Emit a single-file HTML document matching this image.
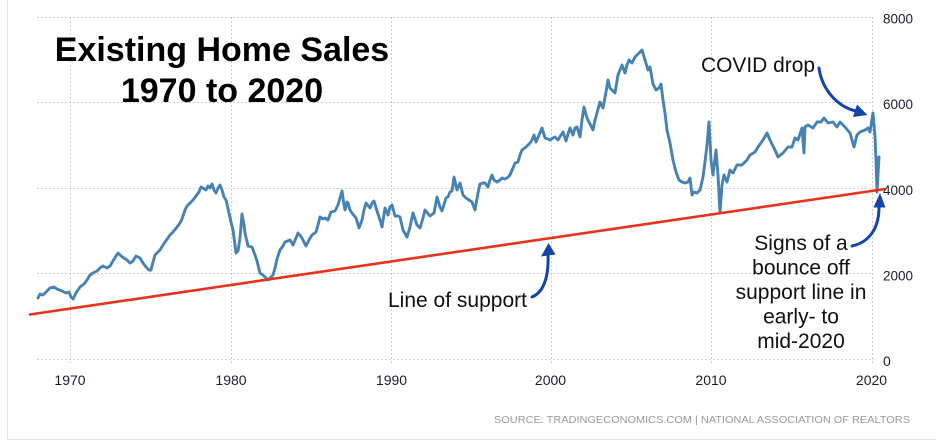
<!DOCTYPE html>
<html>
<head>
<meta charset="utf-8">
<style>
  html,body{margin:0;padding:0;background:#fff;}
  body{width:936px;height:440px;overflow:hidden;}
  svg{display:block;}
  text{font-family:"Liberation Sans",Arial,sans-serif;}
</style>
</head>
<body>
<svg width="936" height="440" viewBox="0 0 936 440" xmlns="http://www.w3.org/2000/svg">
  <rect x="0" y="0" width="936" height="440" fill="#fff"/>
  <!-- frame -->
  <path d="M7.5,-2 L7.5,439.5 L940,439.5" fill="none" stroke="#e4e4e4" stroke-width="1"/>

  <!-- grid -->
  <g stroke="#cfcfcf" stroke-width="1" stroke-dasharray="2,2" fill="none">
    <line x1="37" y1="17.5" x2="874" y2="17.5"/>
    <line x1="37" y1="102.5" x2="874" y2="102.5"/>
    <line x1="37" y1="188.5" x2="874" y2="188.5"/>
    <line x1="37" y1="273.5" x2="874" y2="273.5"/>
    <line x1="37" y1="359.5" x2="874" y2="359.5"/>
    <line x1="70.5" y1="17" x2="70.5" y2="365"/>
    <line x1="231.5" y1="17" x2="231.5" y2="365"/>
    <line x1="391.5" y1="17" x2="391.5" y2="365"/>
    <line x1="551.5" y1="17" x2="551.5" y2="365"/>
    <line x1="711.5" y1="17" x2="711.5" y2="365"/>
    <line x1="872.5" y1="17" x2="872.5" y2="365"/>
  </g>

  <!-- y labels -->
  <g fill="#1c1c30" font-size="14">
    <text x="883" y="23.5" textLength="30" lengthAdjust="spacingAndGlyphs">8000</text>
    <text x="883" y="109" textLength="30" lengthAdjust="spacingAndGlyphs">6000</text>
    <text x="883" y="195" textLength="30" lengthAdjust="spacingAndGlyphs">4000</text>
    <text x="883" y="280.5" textLength="30" lengthAdjust="spacingAndGlyphs">2000</text>
    <text x="883" y="366">0</text>
  </g>
  <!-- x labels -->
  <g fill="#1c1c30" font-size="14" text-anchor="middle">
    <text x="70" y="385">1970</text>
    <text x="231" y="385">1980</text>
    <text x="391.5" y="385">1990</text>
    <text x="550.5" y="385">2000</text>
    <text x="711" y="385">2010</text>
    <text x="871.5" y="385">2020</text>
  </g>

  <!-- source -->
  <text x="494" y="423" font-size="10.5" fill="#9a9a9a" textLength="416" lengthAdjust="spacingAndGlyphs">SOURCE: TRADINGECONOMICS.COM | NATIONAL ASSOCIATION OF REALTORS</text>

  <!-- data line -->
  <polyline fill="none" stroke="#4682b4" stroke-width="2.9" stroke-linejoin="round" stroke-linecap="round"
    points="38,298 40,294 43,295 46,292 50,288 54,287 57,289 62,291 66,293 69,292 71,297 73,299 76,293 80,287 84,284 87,280 90,275 93,273 97,271 100,268 103,266 107,268 110,266 113,261 116,256 118,253 121,256 124,258 127,260 130,263 133,261 136,256 138,257 140,258 143,263 146,267 149,270 151,270 153,262 155,255 158,252 160,250 163,245 165,242 168,238 170,235 173,232 177,227 180,223 182,219 185,210 187,206 190,203 193,200 196,196 199,192 201,187 203,188 206,190 208,186 210,188 212,184 214,190 216,193 218,188 220,185 222,190 224,197 226,200 229,213 231,222 233,230 235,245 236,253 238,251 240,238 242,214 244,225 245,233 248,246 252,247 255,255 257,261 260,273 263,275 265,277 268,280 270,278 273,275 275,268 277,259 280,250 283,246 285,242 290,240 293,245 296,238 298,233 302,238 306,246 309,240 312,235 316,232 318,225 320,217 323,219 325,218 328,220 331,212 335,211 338,205 340,198 342,191 344,205 345,210 347,202 348,203 350,210 352,213 356,218 359,228 362,220 364,210 366,203 370,208 372,203 374,201 377,211 380,220 382,227 385,208 388,215 390,207 392,205 395,216 398,216 400,217 403,230 407,237 410,227 413,213 417,225 420,228 423,218 425,210 430,216 434,213 437,197 440,207 442,211 446,198 448,197 450,192 452,191 454,177 457,190 460,183 463,195 466,198 469,200 472,202 475,210 478,193 480,184 483,183 485,183 488,187 490,180 492,175 494,180 497,182 500,180 502,178 505,179 507,178 510,175 513,168 515,163 518,162 520,155 522,150 526,147 530,143 532,140 534,135 536,142 539,135 542,128 545,138 548,139 550,140 553,138 555,137 558,140 561,135 563,132 566,141 568,134 570,128 573,135 575,128 577,127 580,137 582,120 584,107 587,118 590,124 593,130 595,120 597,113 600,102 603,108 606,92 608,80 610,88 612,90 615,93 618,75 620,70 622,65 625,73 627,65 629,60 632,63 635,57 638,54 642,50 645,60 648,70 650,67 653,84 656,90 659,88 661,84 663,100 665,113 667,130 670,143 673,160 676,172 679,180 682,182 685,183 688,182 690,178 692,195 694,192 697,193 700,190 703,177 705,162 707,145 709,122 711,160 713,175 716,150 718,175 720,213 722,185 724,175 727,182 730,170 733,173 737,165 742,165 747,160 750,155 755,152 758,147 763,140 767,133 770,140 775,150 778,157 783,153 788,147 792,147 795,138 798,140 802,128 804,153 805,127 808,125 813,128 817,122 821,122 824,118 828,123 833,122 837,127 840,122 845,127 850,133 854,147 857,135 860,132 865,130 868,128 870,132 873,113 875,137 876,160 877,192 879,157"/>

  <!-- support line -->
  <line x1="30" y1="314.5" x2="885" y2="189" stroke="#e8321c" stroke-width="2.6" stroke-linecap="round"/>

  <!-- title -->
  <g font-weight="bold" font-size="34" fill="#000" text-anchor="middle">
    <text x="222" y="61">Existing Home Sales</text>
    <text x="222" y="102">1970 to 2020</text>
  </g>

  <!-- annotations -->
  <g font-size="21" fill="#111">
    <text x="701" y="72" textLength="114" lengthAdjust="spacingAndGlyphs">COVID drop</text>
    <text x="388" y="307" textLength="139" lengthAdjust="spacingAndGlyphs">Line of support</text>
  </g>
  <g font-size="21" fill="#111" text-anchor="middle">
    <text x="801" y="250">Signs of a</text>
    <text x="801" y="274.5">bounce off</text>
    <text x="801" y="299">support line in</text>
    <text x="801" y="323.5">early- to</text>
    <text x="801" y="348">mid-2020</text>
  </g>

  <!-- arrows -->
  <g stroke="#1345a8" stroke-width="3" fill="none" stroke-linecap="round">
    <path d="M819,68 C822,90 838,107 856,111"/>
    <path d="M852,246 C866,243 879,232 879,207"/>
    <path d="M532,297 C542,293 549,280 548,255"/>
  </g>
  <g fill="#1345a8">
    <polygon points="867.5,115 857,104.5 853,117"/>
    <polygon points="880,193 873.5,207.5 885.5,207.5"/>
    <polygon points="548.5,243 541,256.5 555.5,254.5"/>
  </g>
</svg>
</body>
</html>
